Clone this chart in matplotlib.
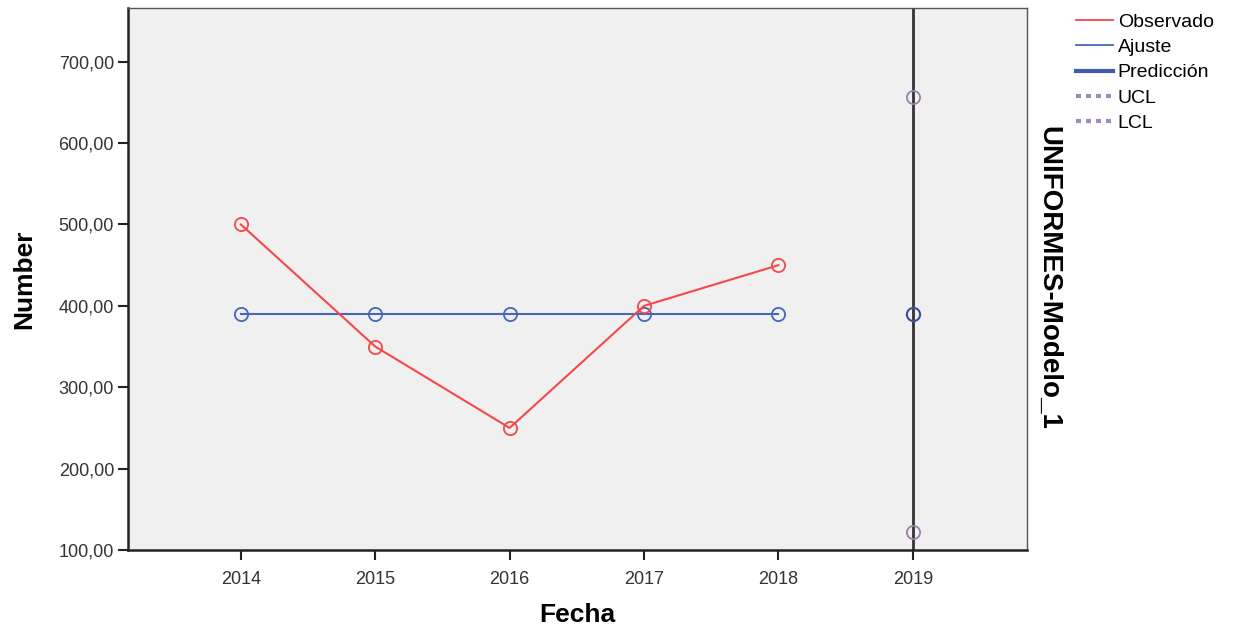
import matplotlib
matplotlib.use("Agg")
import matplotlib.pyplot as plt
from matplotlib.ticker import FuncFormatter

plt.rcParams['font.family'] = ['Liberation Sans', 'DejaVu Sans']

# series values
years = [2014, 2015, 2016, 2017, 2018]
observado = [500, 350, 250, 400, 450]
ajuste = [390, 390, 390, 390, 390]
pred_year = 2019
prediccion = 390
ucl = 657
lcl = 122

red = '#f5484a'
blue = '#4466bb'
purple = '#a088c0'

fig = plt.figure(figsize=(12.34, 6.33), dpi=100)
ax = fig.add_axes([128 / 1234, 83 / 633, 899 / 1234, 542 / 633])
ax.set_facecolor('#f0f0f0')

# forecast origin line
ax.axvline(pred_year, color='#333333', lw=2, zorder=1)

ax.plot(years, ajuste, color=blue, lw=1.5, marker='o', ms=9.5,
        mfc='none', mec=blue, mew=1.3, zorder=3)
ax.plot(years, observado, color=red, lw=1.5, marker='o', ms=9.5,
        mfc='none', mec=red, mew=1.3, zorder=4)
ax.plot([pred_year], [prediccion], color=blue, lw=2.5, marker='o', ms=9.5,
        mfc='none', mec='#3a4f99', mew=1.5, zorder=4)
ax.plot([pred_year], [ucl], ls='none', marker='o', ms=9.5,
        mfc='none', mec='#9a80aa', mew=1.3, zorder=4)
ax.plot([pred_year], [lcl], ls='none', marker='o', ms=9.5,
        mfc='none', mec='#9a80aa', mew=1.3, zorder=4)

ax.set_xlim(2013.16, 2019.85)
ax.set_ylim(100, 766)
ax.set_xticks([2014, 2015, 2016, 2017, 2018, 2019])
ax.set_yticks([100, 200, 300, 400, 500, 600, 700])
ax.yaxis.set_major_formatter(FuncFormatter(lambda v, p: f"{v:.2f}".replace('.', ',')))
ax.tick_params(direction='out', length=7, width=1.5, labelsize=13,
               labelcolor='#333333', color='#222222', pad=3)
ax.tick_params(axis='x', pad=8)
for side in ['left', 'bottom']:
    ax.spines[side].set_linewidth(1.8)
    ax.spines[side].set_color('#222222')
for side in ['top', 'right']:
    ax.spines[side].set_linewidth(1.0)
    ax.spines[side].set_color('#555555')

ax.set_xlabel('Fecha', fontsize=19, fontweight='bold', labelpad=11)
ax.set_ylabel('Number', fontsize=19, fontweight='bold', labelpad=16)

# model name on the right side
fig.text(1048 / 1234, 1 - 278 / 633, 'UNIFORMES-Modelo_1', rotation=-90,
         fontsize=20, fontweight='bold', ha='center', va='center')

# legend
handles = [
    plt.Line2D([], [], color=red, lw=1.3),
    plt.Line2D([], [], color=blue, lw=1.3),
    plt.Line2D([], [], color='#3f5cb0', lw=3),
    plt.Line2D([], [], color=purple, lw=3, ls=(0, (1.2, 1.2))),
    plt.Line2D([], [], color=purple, lw=3, ls=(0, (1.2, 1.2))),
]
labels = ['Observado', 'Ajuste', 'Predicción', 'UCL', 'LCL']
fig.legend(handles, labels, loc='upper left', bbox_to_anchor=(1076 / 1234, 1 - 13 / 633),
           frameon=False, fontsize=14, handlelength=1.9, handletextpad=0.25,
           labelspacing=0.4, borderpad=0, borderaxespad=0)

fig.savefig('out.png', dpi=100)
